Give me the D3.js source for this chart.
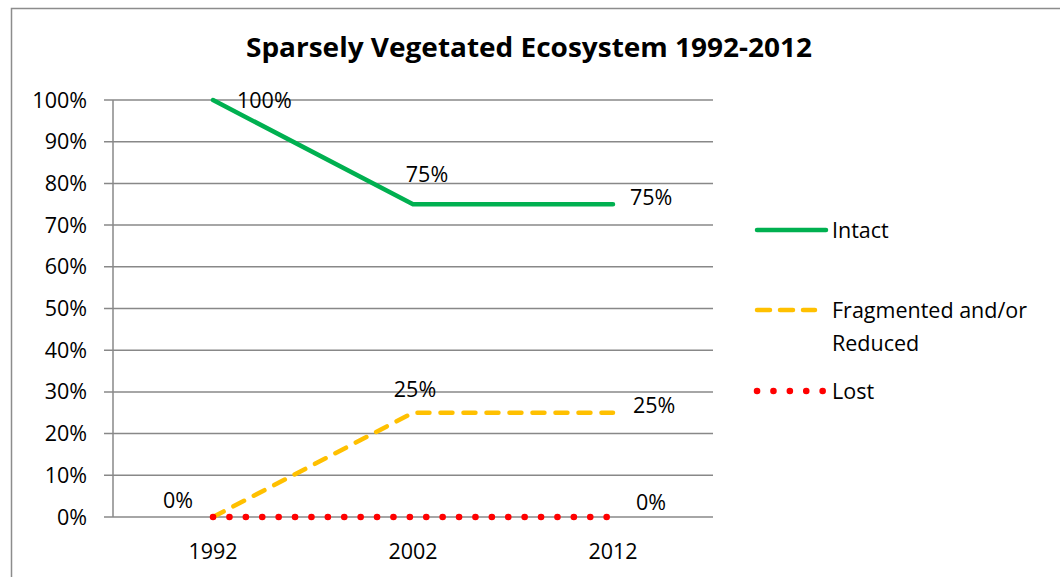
<!DOCTYPE html>
<html>
<head>
<meta charset="utf-8">
<script src="https://cdn.jsdelivr.net/npm/d3@7"></script>
<style>
body{margin:0;background:#fff;}
svg{display:block;font-family:"Open Sans","Noto Sans",sans-serif;}
</style>
</head>
<body>
<div id="chart"></div>
<script>
var years = ["1992", "2002", "2012"];
var intact = [1.00, 0.75, 0.75];
var fragmented = [0.00, 0.25, 0.25];
var lost = [0.00, 0.00, 0.00];
var yTicks = [0, 0.1, 0.2, 0.3, 0.4, 0.5, 0.6, 0.7, 0.8, 0.9, 1.0];

var width = 1060, height = 577;
var fs = 21.5;
var svg = d3.select("#chart").append("svg")
    .attr("width", width)
    .attr("height", height);

// outer chart frame
svg.append("rect")
    .attr("x", 11.5).attr("y", 8.5)
    .attr("width", 1100).attr("height", 600)
    .attr("fill", "#fff").attr("stroke", "#8c8c8c").attr("stroke-width", 1.5);

var x = d3.scalePoint().domain(years).range([213, 613]);
var y = d3.scaleLinear().domain([0, 1]).range([517, 100]);

// gridlines
svg.append("g").selectAll("line").data(yTicks).enter().append("line")
    .attr("x1", 104).attr("x2", 713)
    .attr("y1", function(d){ return y(d); })
    .attr("y2", function(d){ return y(d); })
    .attr("stroke", "#888").attr("stroke-width", 1.5);

// y axis
svg.append("line")
    .attr("x1", 113).attr("x2", 113).attr("y1", y(1)).attr("y2", y(0))
    .attr("stroke", "#888").attr("stroke-width", 1.5);

svg.append("g").selectAll("text").data(yTicks).enter().append("text")
    .attr("x", 87).attr("y", function(d){ return y(d); })
    .attr("dy", "0.35em").attr("text-anchor", "end")
    .attr("font-size", fs)
    .text(d3.format(".0%"));

// x labels
svg.append("g").selectAll("text").data(years).enter().append("text")
    .attr("x", function(d){ return x(d); }).attr("y", 551)
    .attr("dy", "0.35em").attr("text-anchor", "middle")
    .attr("font-size", fs)
    .text(function(d){ return d; });

// title
svg.append("text")
    .attr("x", 529).attr("y", 48).attr("dy", "0.35em")
    .attr("text-anchor", "middle").attr("font-size", 26).attr("font-weight", "bold")
    .attr("textLength", 566).attr("lengthAdjust", "spacingAndGlyphs")
    .text("Sparsely Vegetated Ecosystem 1992-2012");

var series = [
  {name: "Intact", vals: intact, color: "#00b050", dash: null, cap: "round", w: 4.5},
  {name: "Fragmented", vals: fragmented, color: "#ffc000", dash: "12 11", cap: "round", w: 4.5},
  {name: "Lost", vals: lost, color: "#ff0000", dash: "0.1 16.3", cap: "round", w: 6.5}
];

var line = d3.line()
    .x(function(d, i){ return x(years[i]); })
    .y(function(d){ return y(d); });

series.forEach(function(s){
  svg.append("path")
    .attr("d", line(s.vals))
    .attr("fill", "none")
    .attr("stroke", s.color)
    .attr("stroke-width", s.w)
    .attr("stroke-linecap", s.cap)
    .attr("stroke-linejoin", "round")
    .attr("stroke-dasharray", s.dash);
});

// data labels
var labels = [
  {v: intact[0], i: 0, dx: 24, dy: 0, a: "start"},
  {v: intact[1], i: 1, dx: 14, dy: -30, a: "middle"},
  {v: intact[2], i: 2, dx: 17, dy: -7, a: "start"},
  {v: fragmented[0], i: 0, dx: -35, dy: -17, a: "middle"},
  {v: fragmented[1], i: 1, dx: 2, dy: -23, a: "middle"},
  {v: fragmented[2], i: 2, dx: 20, dy: -7, a: "start"},
  {v: lost[2], i: 2, dx: 23, dy: -15, a: "start"}
];
svg.append("g").selectAll("text").data(labels).enter().append("text")
    .attr("x", function(d){ return x(years[d.i]) + d.dx; })
    .attr("y", function(d){ return y(d.v) + d.dy; })
    .attr("dy", "0.35em").attr("text-anchor", function(d){ return d.a; })
    .attr("font-size", fs)
    .text(function(d){ return d3.format(".0%")(d.v); });

// legend
var legend = [
  {lines: ["Intact"], y: 230, s: series[0]},
  {lines: ["Fragmented and/or", "Reduced"], y: 310, s: series[1]},
  {lines: ["Lost"], y: 391, s: series[2]}
];
legend.forEach(function(l){
  svg.append("line")
    .attr("x1", 757).attr("x2", l.s.name === "Intact" ? 826 : (l.s.name === "Lost" ? 823 : 815))
    .attr("y1", l.y).attr("y2", l.y)
    .attr("stroke", l.s.color).attr("stroke-width", l.s.w)
    .attr("stroke-linecap", l.s.cap)
    .attr("stroke-dasharray", l.s.name === "Fragmented" ? "13 10" : l.s.dash);
  l.lines.forEach(function(t, k){
    svg.append("text")
      .attr("x", 832).attr("y", l.y + k * 33).attr("dy", "0.35em")
      .attr("font-size", fs)
      .text(t);
  });
});
</script>
</body>
</html>
